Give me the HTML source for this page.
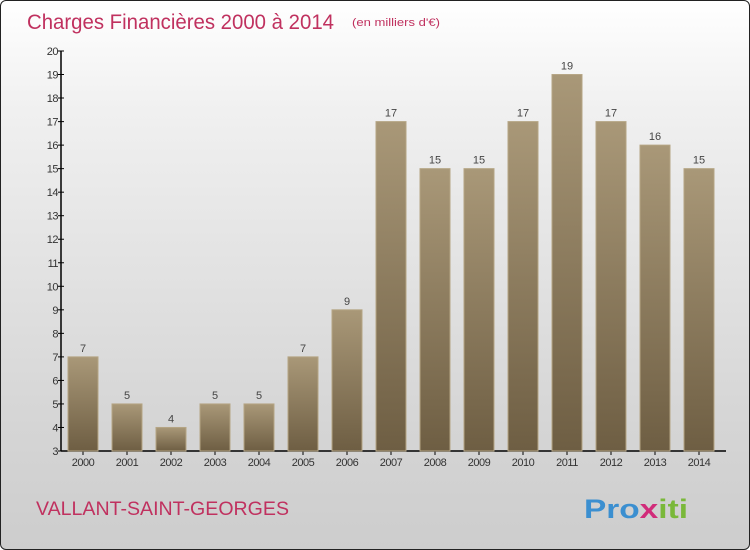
<!DOCTYPE html>
<html><head><meta charset="utf-8"><style>
body{margin:0;}
#c{position:relative;width:748px;height:548px;border:1px solid #222;border-radius:6px;overflow:hidden;background:linear-gradient(#ffffff,#f0f0f0 20%,#d6d6d6 75%,#cdcdcd);font-family:"Liberation Sans",sans-serif;}
</style></head><body>
<div id="c">
<svg width="748" height="548">
<defs><linearGradient id="g" x1="0" y1="0" x2="0" y2="1"><stop offset="0" stop-color="#a99878"/><stop offset="1" stop-color="#6e5e43"/></linearGradient></defs>
<text x="26" y="28" font-size="21" fill="#c0315f" textLength="307" lengthAdjust="spacingAndGlyphs">Charges Financières 2000 à 2014</text>
<text x="351" y="25" font-size="11" fill="#c0315f" textLength="88" lengthAdjust="spacingAndGlyphs">(en milliers d'€)</text>
<text x="35" y="514" font-size="19" fill="#c0315f" textLength="253" lengthAdjust="spacingAndGlyphs">VALLANT-SAINT-GEORGES</text>
<text x="583" y="517" font-size="27" font-weight="bold" fill="#f39a1c" textLength="104" lengthAdjust="spacingAndGlyphs"><tspan fill="#3b8fd0">Pro</tspan><tspan fill="#d12c7a">x</tspan><tspan fill="#7ab83a">iti</tspan></text>
<g id="axes"></g><g id="bars"></g>
</svg></div>
<script>
const years=["2000","2001","2002","2003","2004","2005","2006","2007","2008","2009","2010","2011","2012","2013","2014"];
const values=[7,5,4,5,5,7,9,17,15,15,17,19,17,16,15];
const yTicks=[3,4,5,6,7,8,9,10,11,12,13,14,15,16,17,18,19,20];
const ns="http://www.w3.org/2000/svg";
function y(v){return 450-(v-3)*400/17;}
function x(i){return 82+i*44;}
const ax=document.getElementById('axes'),bg=document.getElementById('bars');
function el(t,a,p,txt){const e=document.createElementNS(ns,t);for(const k in a)e.setAttribute(k,a[k]);if(txt!==undefined)e.textContent=txt;p.appendChild(e);return e;}
const yl=el('line',{x1:60,y1:50,x2:60,y2:450,stroke:'#000','stroke-width':1.5},ax);


const xl=el('line',{x1:60,y1:450,x2:725,y2:450,stroke:'#000','stroke-width':1.5},ax);


yTicks.forEach(v=>{
 el('line',{x1:57,y1:y(v),x2:63,y2:y(v),stroke:'#000'},ax);
 const t=el('text',{x:57,y:y(v)+4,'font-size':11,fill:'#333','text-anchor':'end','letter-spacing':'-0.5'},ax,v);
 
 
});
years.forEach((yr,i)=>{
 const v=values[i];
 const r=el('rect',{x:x(i)-15,y:y(v),width:30,height:450-y(v),fill:'url(#g)',stroke:'#b5a584','stroke-width':1},bg);
 
 
 const l=el('text',{x:x(i),y:y(v)-5,'font-size':11,fill:'#444','text-anchor':'middle'},bg,v);
 
 
 el('line',{x1:x(i),y1:450,x2:x(i),y2:454,stroke:'#000'},ax);
 const xt=el('text',{x:x(i),y:465,'font-size':11,fill:'#333','text-anchor':'middle','letter-spacing':'-0.5'},ax,yr);
 
 
});
</script>
</body></html>
